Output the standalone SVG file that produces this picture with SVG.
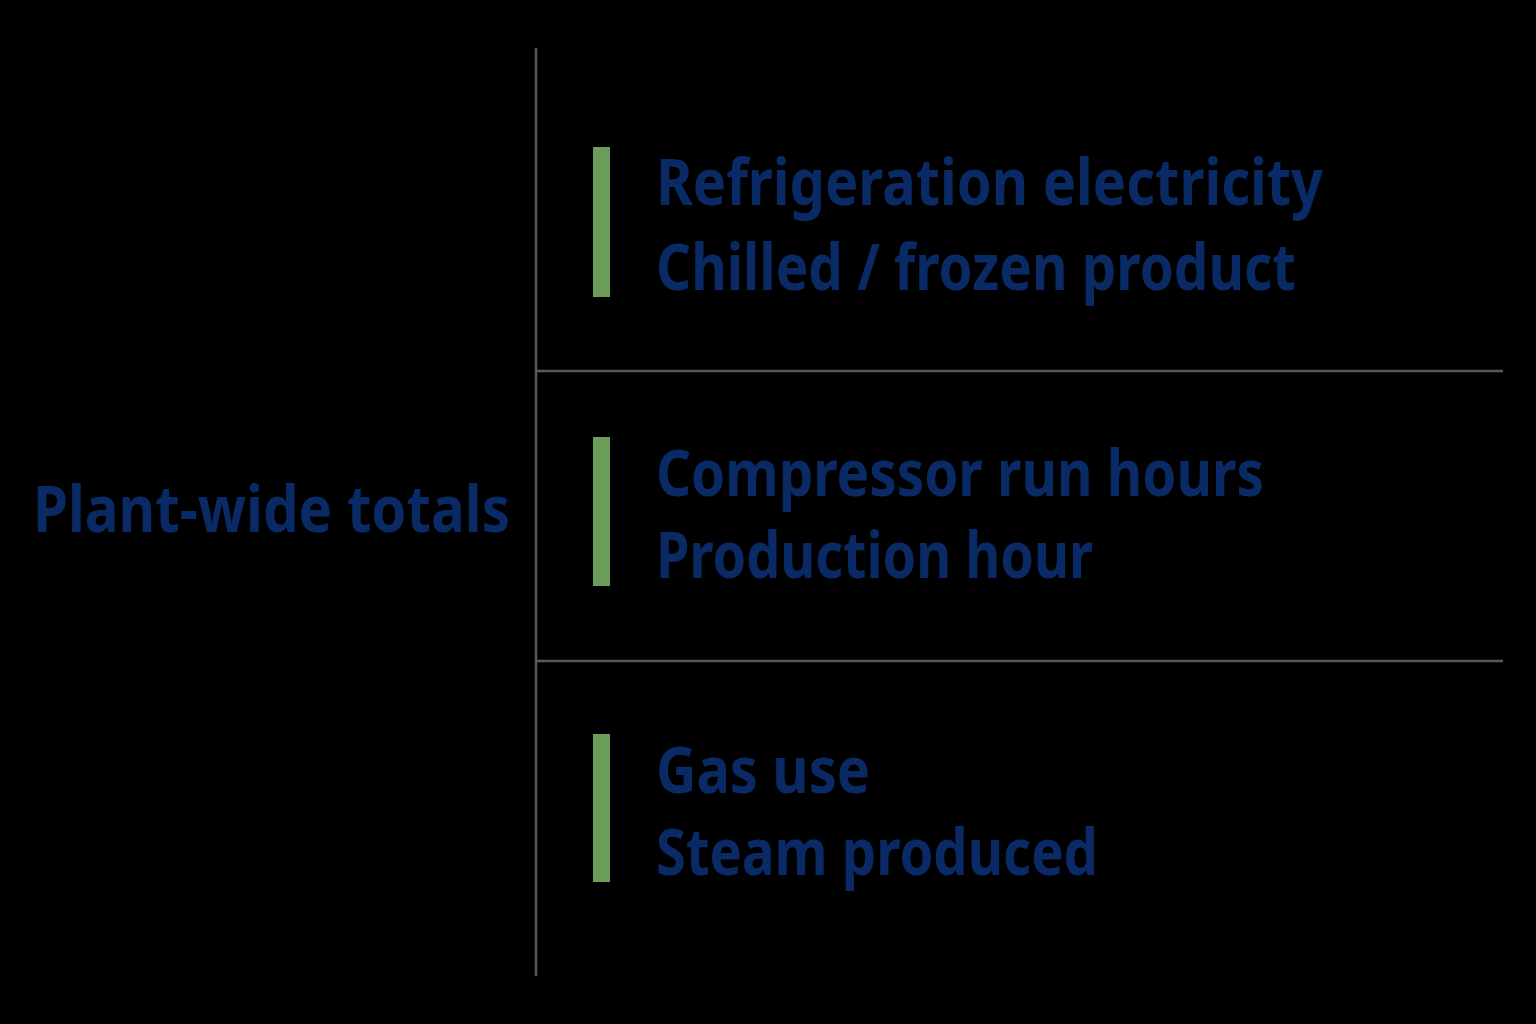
<svg xmlns="http://www.w3.org/2000/svg" width="1536" height="1024" viewBox="0 0 1536 1024">
<style>
.t{font-family:"Noto Sans","Open Sans","Liberation Sans",sans-serif;font-weight:700;fill:#0a2a66;font-size:65px}
.bar{fill:#6a9e58}
.ln{stroke:#555a5e;stroke-width:2.5;fill:none}
</style>
<rect width="1536" height="1024" fill="#000"/>
<g id="connectors">
<line class="ln" x1="536" y1="48" x2="536" y2="976"/>
<line class="ln" x1="536" y1="371" x2="1503" y2="371"/>
<line class="ln" x1="536" y1="661" x2="1503" y2="661"/>
</g>
<g id="root"><text class="t" x="33" y="532" textLength="477" lengthAdjust="spacingAndGlyphs">Plant-wide totals</text></g>
<g id="item1">
<rect class="bar" x="593" y="147" width="17" height="150"/>
<text class="t" x="656" y="205" textLength="667" lengthAdjust="spacingAndGlyphs">Refrigeration electricity</text>
<text class="t" x="656" y="290" textLength="640" lengthAdjust="spacingAndGlyphs">Chilled / frozen product</text>
</g>
<g id="item2">
<rect class="bar" x="593" y="437" width="17" height="149"/>
<text class="t" x="656" y="496" textLength="608" lengthAdjust="spacingAndGlyphs">Compressor run hours</text>
<text class="t" x="656" y="578" textLength="437" lengthAdjust="spacingAndGlyphs">Production hour</text>
</g>
<g id="item3">
<rect class="bar" x="593" y="734" width="17" height="148"/>
<text class="t" x="656" y="793" textLength="214" lengthAdjust="spacingAndGlyphs">Gas use</text>
<text class="t" x="656" y="875" textLength="442" lengthAdjust="spacingAndGlyphs">Steam produced</text>
</g>
</svg>
